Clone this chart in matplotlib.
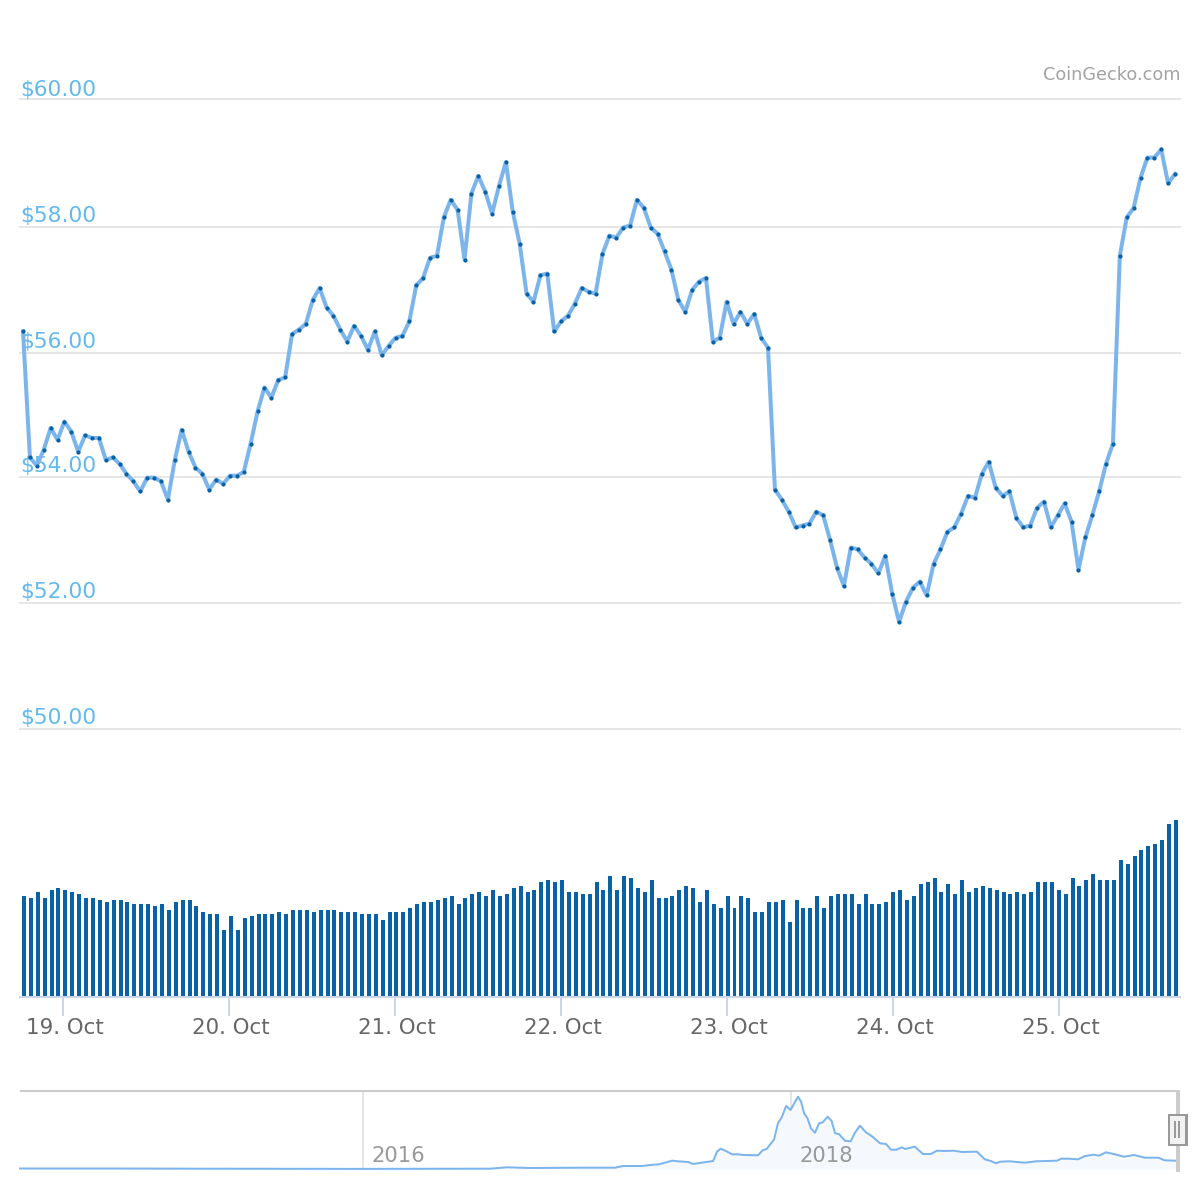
import matplotlib
matplotlib.use('Agg')
import matplotlib.pyplot as plt
from matplotlib.patches import Rectangle
from matplotlib.transforms import ScaledTranslation
import numpy as np

# hourly price, 18 Oct evening to 25 Oct
price = [
    56.31, 54.31, 54.18, 54.43, 54.78, 54.59, 54.88, 54.72, 54.40, 54.66, 54.62, 54.62,
    54.27, 54.31, 54.21, 54.05, 53.93, 53.77, 53.99, 53.99, 53.93, 53.64, 54.27, 54.75,
    54.40, 54.15, 54.05, 53.80, 53.96, 53.89, 54.02, 54.02, 54.08, 54.53, 55.04, 55.42,
    55.26, 55.54, 55.58, 56.27, 56.34, 56.43, 56.81, 57.00, 56.69, 56.56, 56.34, 56.15,
    56.40, 56.24, 56.02, 56.31, 55.93, 56.08, 56.21,
    56.24, 56.47, 57.04, 57.16, 57.48, 57.51, 58.12, 58.40, 58.24, 57.45, 58.50, 58.78,
    58.53, 58.18, 58.62, 59.00, 58.21, 57.70, 56.91, 56.78, 57.20, 57.23, 56.31, 56.47,
    56.56, 56.75, 57.00, 56.94, 56.91, 57.54, 57.83, 57.80, 57.96, 57.99, 58.40, 58.27,
    57.96, 57.86, 57.58, 57.29, 56.81, 56.62, 56.97, 57.10, 57.16, 56.15, 56.21, 56.78,
    56.43, 56.62, 56.43, 56.59, 56.21, 56.05, 53.80, 53.64, 53.45, 53.20,
    53.23, 53.26, 53.45, 53.39, 53.00, 52.56, 52.27, 52.88, 52.85, 52.72, 52.62, 52.47,
    52.75, 52.15, 51.70, 52.02, 52.24, 52.34, 52.12, 52.62, 52.85, 53.13, 53.20, 53.42,
    53.70, 53.67, 54.05, 54.24, 53.83, 53.70, 53.77, 53.35, 53.20, 53.23, 53.51, 53.61,
    53.20, 53.39, 53.58, 53.29, 52.53, 53.04, 53.39, 53.77, 54.21, 54.53, 57.51, 58.12,
    58.27, 58.75, 59.07, 59.07, 59.20, 58.66, 58.81,
]

volume = [
    100, 98, 104, 98, 106, 108, 106, 104, 102, 98, 98, 96, 94, 96, 96, 94, 92, 92, 92, 90,
    92, 86, 94, 96, 96, 90, 84, 82, 82, 66, 80, 66, 78, 80, 82, 82, 82, 84, 82, 86, 86, 86,
    84, 86, 86, 86, 84, 84, 84, 82, 82, 82, 76, 84, 84,
    84, 88, 92, 94, 94, 96, 98, 100, 92, 98, 102, 104, 100, 106, 100, 102, 108, 110, 104,
    106, 114, 116, 114, 116, 104, 104, 102, 102, 114, 106, 120, 106, 120, 118, 108, 104,
    116, 98, 98, 100, 106, 110, 108, 94, 106, 92, 88, 100, 88, 100, 98, 84, 84, 94, 94,
    96, 74, 96,
    88, 88, 100, 88, 100, 102, 102, 102, 92, 102, 92, 92, 94, 104, 106, 96, 100, 112, 114,
    118, 104, 112, 102, 116, 104, 108, 110, 108, 106, 104, 102, 104, 102, 104, 114, 114,
    114, 106, 102, 118, 110, 116, 122, 116, 116, 116, 136, 132, 140, 146, 150, 152, 156,
    172, 176,
]

# long range overview at the bottom
overview_year = [
    2014.397, 2014.818, 2015.238, 2015.986, 2016.593, 2016.673, 2016.780, 2017.014, 2017.107,
    2017.178, 2017.215, 2017.304, 2017.341, 2017.383, 2017.411, 2017.444, 2017.472, 2017.519,
    2017.542, 2017.572, 2017.636, 2017.654, 2017.671, 2017.696, 2017.724, 2017.752, 2017.778,
    2017.846, 2017.867, 2017.886, 2017.921, 2017.939, 2017.958, 2017.977, 2017.998, 2018.019,
    2018.033, 2018.047, 2018.061, 2018.077, 2018.093, 2018.112, 2018.131, 2018.148, 2018.171,
    2018.189, 2018.206, 2018.224, 2018.252, 2018.279, 2018.297, 2018.322, 2018.350, 2018.381,
    2018.416, 2018.444, 2018.467, 2018.493, 2018.519, 2018.533, 2018.578, 2018.617, 2018.654,
    2018.681, 2018.715, 2018.762, 2018.797, 2018.869, 2018.905, 2018.930, 2018.958, 2018.977,
    2019.021, 2019.093, 2019.145, 2019.243, 2019.262, 2019.299, 2019.341, 2019.374, 2019.414,
    2019.439, 2019.472, 2019.521, 2019.556, 2019.603, 2019.654, 2019.718, 2019.745, 2019.799,
]
overview_level = [
    0.5, 0.5, 0.3, 0.1, 0.3, 1.7, 1.0, 1.3, 1.3,
    1.3, 3.0, 3.0, 4.0, 4.7, 6.3, 8.3, 7.7, 7.0,
    5.0, 6.0, 8.0, 17.3, 20.3, 18.0, 14.7, 14.7, 14.0,
    13.7, 18.7, 20.0, 29.7, 45.7, 52.3, 63.0, 59.0, 67.3,
    72.3, 67.3, 55.7, 50.7, 40.7, 36.3, 45.7, 46.7, 52.3,
    48.3, 35.7, 35.0, 28.3, 27.7, 35.7, 43.3, 36.7, 32.3,
    25.7, 25.0, 19.3, 19.3, 21.7, 20.0, 22.3, 15.0, 15.0,
    18.3, 18.0, 18.3, 17.0, 17.3, 9.7, 8.3, 5.7, 7.3,
    7.7, 6.3, 7.7, 8.3, 10.3, 10.3, 9.7, 13.0, 14.3,
    13.3, 16.7, 14.3, 12.3, 14.0, 11.3, 11.3, 8.7, 8.3,
]

grid_levels = [50, 52, 54, 55.968, 57.968, 60]
grid_labels = ['$50.00', '$52.00', '$54.00', '$56.00', '$58.00', '$60.00']
label_gap = [5, 5, 5, 5, 5, 3]  # px between digits and gridline
day_hours = [0, 24, 48, 72, 96, 120, 144]
day_labels = ['19. Oct', '20. Oct', '21. Oct', '22. Oct', '23. Oct', '24. Oct', '25. Oct']
overview_ticks = [2016, 2018]

LINE = '#7cb5ec'
BAR = '#0a62a6'
GRID = '#e6e6e6'
AXIS = '#ccd6eb'
W, H = 1200, 1200
px = 72 / 100  # points per pixel


def add_axes(left, top, right, bottom):
    a = fig.add_axes([left / W, 1 - bottom / H, (right - left) / W, (bottom - top) / H])
    a.patch.set_alpha(0)
    for s in a.spines.values():
        s.set_visible(False)
    return a


def fig_rect(left, top, right, bottom, **kw):
    fig.add_artist(Rectangle((left / W, 1 - bottom / H), (right - left) / W, (bottom - top) / H,
                             transform=fig.transFigure, linewidth=0, **kw))


plt.rcParams['font.family'] = 'DejaVu Sans'
fig = plt.figure(figsize=(12, 12), dpi=100, facecolor='white')

# hours since 19 Oct 00:00, 6.917 px per hour
xlim = (-6.217, 161.49)
bar_hours = -5.64 + 0.9973 * np.arange(len(volume))
line_hours = bar_hours - 0.14

# price panel
ax = add_axes(20, 99, 1180, 729)
ax.set_xlim(xlim)
ax.set_ylim(50, 60)
ax.set_xticks([])
ax.set_yticks(grid_levels)
ax.tick_params(axis='y', length=0, labelleft=False)
ax.grid(axis='y', color=GRID, linewidth=2 * px)
for g in ax.get_ygridlines():
    g.set_clip_on(False)
ax.set_axisbelow(True)
for level, label, gap in zip(grid_levels, grid_labels, label_gap):
    ax.annotate(label, xy=(0, level), xycoords=('axes fraction', 'data'),
                xytext=(0.5 * px, gap * px), textcoords='offset points',
                va='baseline', ha='left', fontsize=15.7, color='#62b9ee', zorder=1)
ax.plot(line_hours, price, color=LINE, linewidth=4 * px, solid_joinstyle='round', zorder=3,
        clip_on=False)
ax.plot(line_hours, price, linestyle='none', marker='o', markersize=4.2 * px, color=BAR,
        markeredgewidth=0, zorder=4, clip_on=False)
ax.text(1, 1.0381, 'CoinGecko.com', transform=ax.transAxes, ha='right', va='center',
        fontsize=12.7, color='#a3a3a3')

# volume panel
vol = add_axes(20, 816, 1180, 996)
vol.set_xlim(xlim)
vol.set_ylim(0, 180)
vol.bar(bar_hours, volume, width=0.578, color=BAR, linewidth=0)
vol.set_yticks([])
vol.spines['bottom'].set_visible(True)
vol.spines['bottom'].set_color(AXIS)
vol.spines['bottom'].set_linewidth(2 * px)
vol.spines['bottom'].set_position(('outward', 1 * px))
vol.set_xticks(day_hours)
vol.set_xticklabels(day_labels)
vol.tick_params(axis='x', color=AXIS, length=19 * px, width=2 * px, pad=1.6,
                labelsize=15.4, labelcolor='#666666')
for lab in vol.get_xticklabels():
    lab.set_transform(lab.get_transform() + ScaledTranslation(0.015, 0, fig.dpi_scale_trans))

# overview panel
nav = add_axes(20, 1091, 1176, 1169)
nav.set_xlim(2014.397, 2019.799)
nav.set_ylim(0, 78)
nav.set_yticks([])
nav.set_xticks([])
for year in overview_ticks:
    nav.axvline(year, color=GRID, linewidth=2 * px, zorder=1)
    nav.annotate(str(year), xy=(year, 0), xytext=(8 * px, 7 * px), textcoords='offset points',
                 va='baseline', ha='left', fontsize=15.2, color='#999999', zorder=5)
nav.fill_between(overview_year, overview_level, 0, color='#f5f9fe', linewidth=0, zorder=2)
nav.plot(overview_year, overview_level, color=LINE, linewidth=2 * px, zorder=3, clip_on=False)

# navigator outline and handle
fig_rect(20, 1090, 1180, 1092, color='#cccccc')
fig_rect(1176, 1090, 1180, 1172, color='#cccccc')
fig_rect(1168, 1114, 1188, 1146, color='#999999')
fig_rect(1170, 1116, 1185, 1144, color='#f2f2f2')
fig_rect(1174, 1121, 1176, 1138, color='#999999')
fig_rect(1178, 1121, 1180, 1138, color='#999999')

fig.savefig('out.png', dpi=100, facecolor='white')
